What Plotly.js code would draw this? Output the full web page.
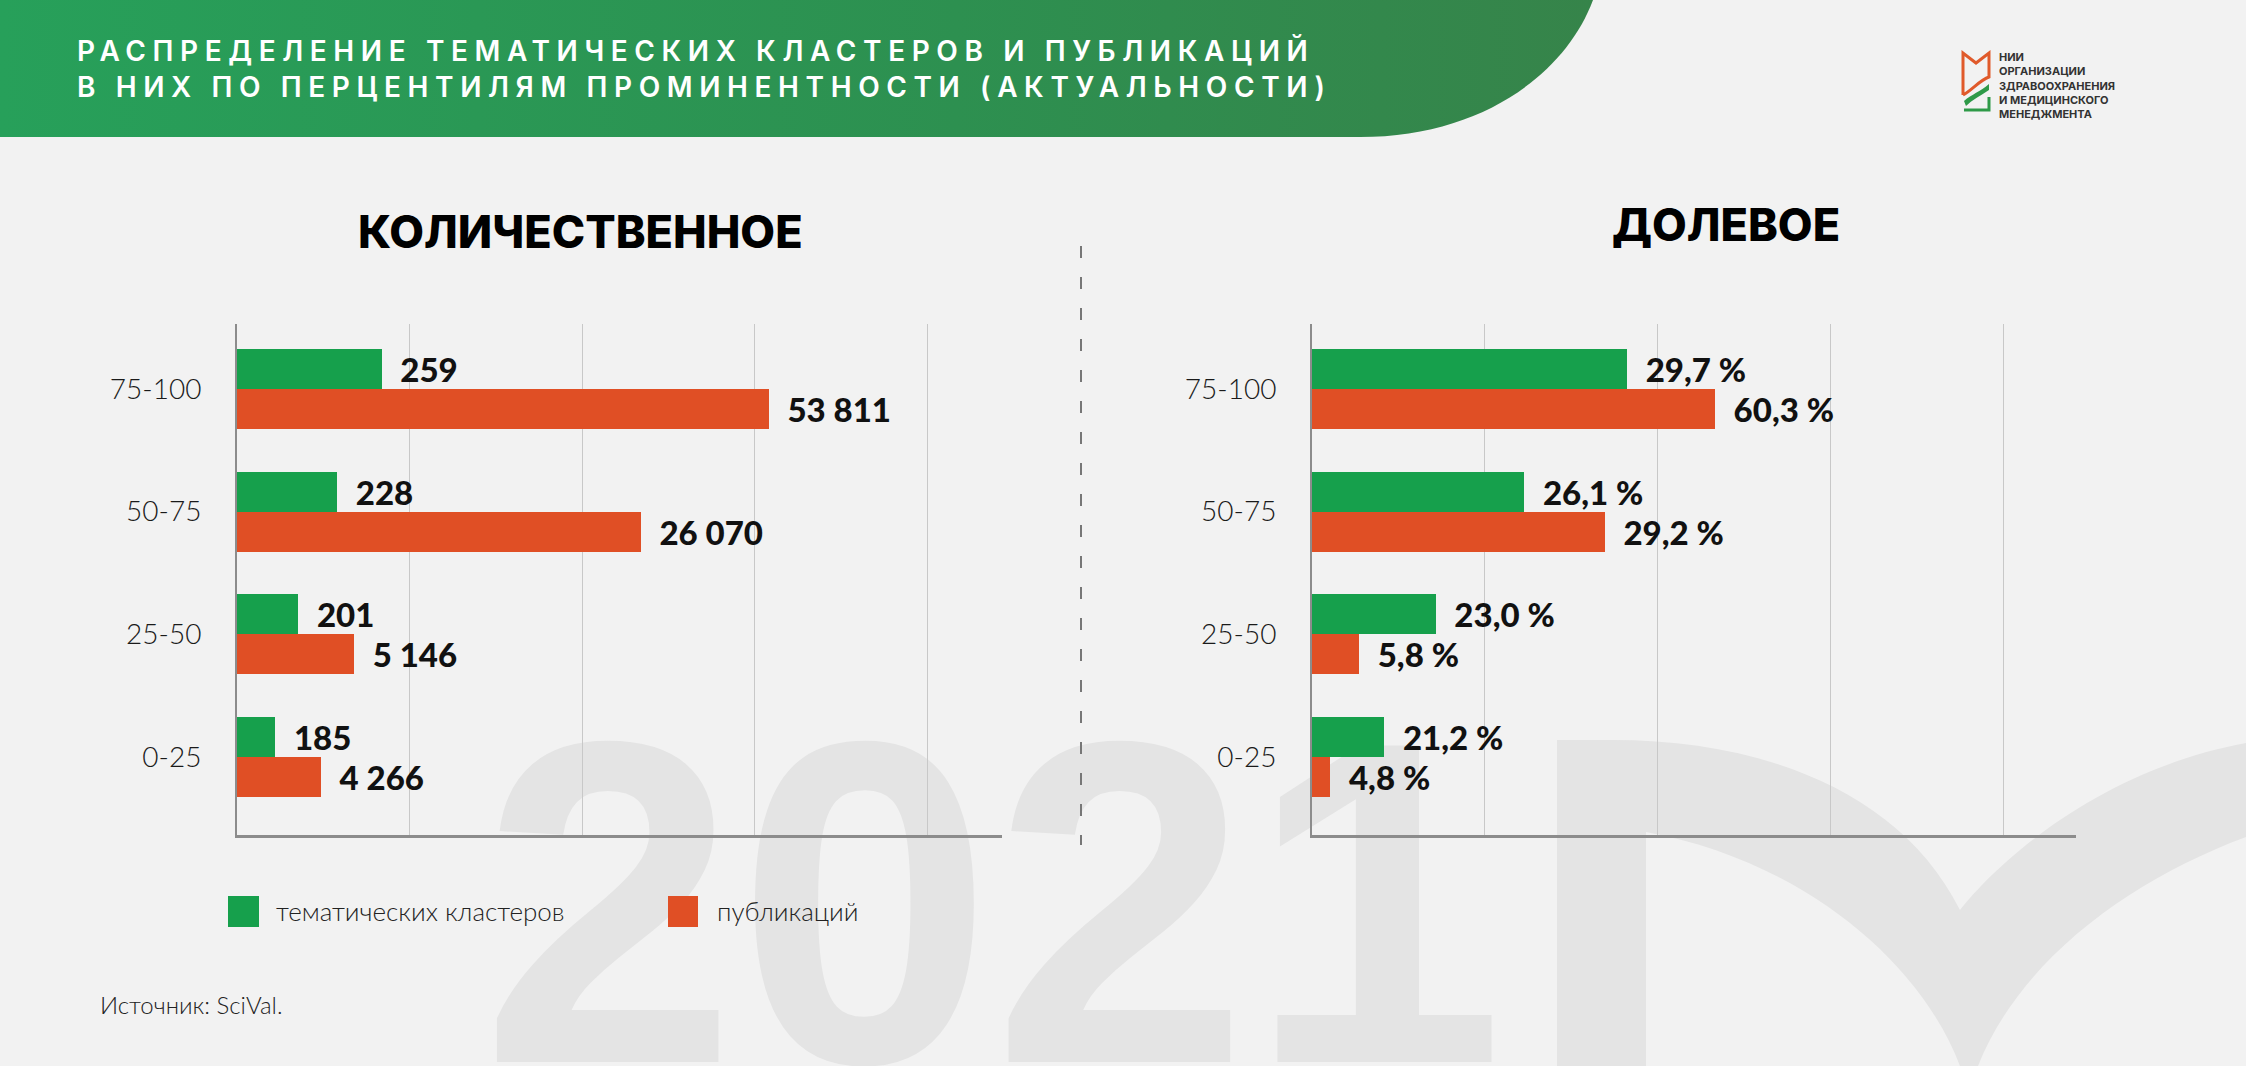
<!DOCTYPE html>
<html>
<head>
<meta charset="utf-8">
<script src="https://cdn.plot.ly/plotly-3.0.1.min.js"></script>
<style>
  html, body { margin: 0; padding: 0; background: #f2f2f2; }
  #chart { width: 2246px; height: 1066px; }
  .annotation[data-index="0"] text { letter-spacing: 6.6px; }
</style>
</head>
<body>
<div id="chart"></div>
<script>
// ---- data ----
const categories = ['0-25', '25-50', '50-75', '75-100'];
const clusters = [185, 201, 228, 259];
const publications = [4266, 5146, 26070, 53811];
const clusterShare = [21.2, 23.0, 26.1, 29.7];
const publicationShare = [4.8, 5.8, 29.2, 60.3];
const seriesNames = ['тематических кластеров', 'публикаций'];
const panelTitles = ['КОЛИЧЕСТВЕННОЕ', 'ДОЛЕВОЕ'];
const mainTitle = 'РАСПРЕДЕЛЕНИЕ ТЕМАТИЧЕСКИХ КЛАСТЕРОВ И ПУБЛИКАЦИЙ<br>В НИХ ПО ПЕРЦЕНТИЛЯМ ПРОМИНЕНТНОСТИ (АКТУАЛЬНОСТИ)';
const sourceText = 'Источник: SciVal.';
const logoText = 'НИИ<br>ОРГАНИЗАЦИИ<br>ЗДРАВООХРАНЕНИЯ<br>И МЕДИЦИНСКОГО<br>МЕНЕДЖМЕНТА';
const watermark = '2021';

// ---- layout helpers (pixel -> paper) ----
const W = 2246, H = 1066;
const X = p => p / W;
const Y = p => 1 - p / H;

const GREEN = '#16a04c';
const ORANGE = '#e04f25';
const LABEL_FONT = { family: 'Lato, sans-serif', size: 33, weight: 900, color: '#111' };
const GAP = '\u00a0\u00a0';

function barTrace(values, name, color, xa, ya, offset, tmpl) {
  return {
    type: 'bar', orientation: 'h', y: categories, x: values, name: name,
    xaxis: xa, yaxis: ya, width: 0.326, offset: offset,
    marker: { color: color, line: { width: 0 } },
    texttemplate: tmpl, textposition: 'outside', cliponaxis: false,
    constraintext: 'none', textfont: LABEL_FONT,
    showlegend: false, hoverinfo: 'skip'
  };
}

const data = [
  barTrace(clusters, seriesNames[0], GREEN, 'x', 'y', 0, GAP + '%{x:,}'),
  barTrace(publications, seriesNames[1], ORANGE, 'x2', 'y', -0.326, GAP + '%{x:,}'),
  barTrace(clusterShare, seriesNames[0], GREEN, 'x3', 'y2', 0, GAP + '%{x:.1f} %'),
  barTrace(publicationShare, seriesNames[1], ORANGE, 'x4', 'y2', -0.326, GAP + '%{x:.1f} %')
];

function gridAxis(domain, range, dtick, anchor) {
  return {
    domain: domain, range: range, anchor: anchor, tick0: range[0], dtick: dtick,
    showgrid: true, gridcolor: '#c8c8c8', gridwidth: 1,
    showticklabels: false, ticks: '', zeroline: false,
    showline: true, linecolor: '#8c8c8c', linewidth: 3, fixedrange: true
  };
}
function logAxis(over, range, anchor) {
  return { overlaying: over, type: 'log', range: range, anchor: anchor, visible: false, fixedrange: true };
}
function catAxis(anchor) {
  return {
    domain: [Y(835), Y(324)], anchor: anchor, type: 'category',
    categoryorder: 'array', categoryarray: categories, range: [-0.636, 3.53],
    showline: true, linecolor: '#8c8c8c', linewidth: 2, ticks: '',
    showgrid: false, zeroline: false, ticklabelstandoff: 28,
    tickfont: { family: 'Lato, sans-serif', size: 28, weight: 300, color: '#1a1a1a' },
    fixedrange: true
  };
}

const bannerSvg = '<svg xmlns="http://www.w3.org/2000/svg" width="1593" height="137" viewBox="0 0 1593 137" preserveAspectRatio="none">' +
  '<defs><linearGradient id="g" x1="0" y1="0" x2="1" y2="0">' +
  '<stop offset="0" stop-color="#27a05a"/><stop offset="0.6" stop-color="#2d9050"/><stop offset="1" stop-color="#36844a"/></linearGradient></defs>' +
  '<path d="M0,0 L1593,0 C1565,75 1480,137 1360,137 L0,137 Z" fill="url(#g)"/></svg>';

function P(pts) { // build a path string from pixel commands
  return pts.map(s => s[0] + s.slice(1).map((v, i) => (i % 2 === 0 ? X(v) : Y(v)).toFixed(5)).join(',')).join(' ');
}

const checkPath = P([
  ['M', 1557, 1066], ['L', 1557, 740], ['L', 1613, 740],
  ['C', 1760, 740, 1900, 790, 1960, 910],
  ['C', 2000, 860, 2100, 770, 2246, 743],
  ['L', 2246, 837],
  ['C', 2130, 880, 2020, 960, 1978, 1066],
  ['L', 1960, 1066],
  ['C', 1920, 960, 1800, 860, 1646, 832],
  ['L', 1646, 1066]
]) + ' Z';

const logoOrange = P([
  ['M', 1963, 95], ['L', 1963, 53], ['L', 1976, 63], ['L', 1989, 53], ['L', 1989, 77],
  ['C', 1980, 80, 1972, 90, 1963, 95]
]);
const logoGreenBand = P([
  ['M', 1964, 101], ['C', 1972, 94, 1980, 92, 1989, 84], ['L', 1989, 90],
  ['C', 1980, 96, 1972, 100, 1966, 106]
]) + ' Z';
const logoGreenL = P([['M', 1964, 110], ['L', 1989, 110], ['L', 1989, 97]]);

const layout = {
  width: W, height: H,
  margin: { l: 0, r: 0, t: 0, b: 0, pad: 0 },
  paper_bgcolor: '#f2f2f2', plot_bgcolor: 'rgba(0,0,0,0)',
  separators: ', ',
  bargap: 0,
  xaxis: gridAxis([X(237), X(1002)], [158.4, 690.4], 120, 'y'),
  xaxis2: logAxis('x', [3.424, 5.304], 'y'),
  xaxis3: gridAxis([X(1312), X(2076)], [18.67, 45.42], 6.05, 'y2'),
  xaxis4: logAxis('x3', [0.629, 2.812], 'y2'),
  yaxis: catAxis('x'),
  yaxis2: catAxis('x3'),
  images: [{
    source: 'data:image/svg+xml;charset=utf-8,' + encodeURIComponent(bannerSvg),
    xref: 'paper', yref: 'paper', x: 0, y: 1, sizex: 1593 / W, sizey: 137 / H,
    xanchor: 'left', yanchor: 'top', sizing: 'stretch', layer: 'below'
  }],
  shapes: [
    { type: 'rect', xref: 'paper', yref: 'paper', layer: 'below',
      x0: X(478), x1: X(1520), y0: Y(1066), y1: Y(602),
      line: { width: 0 }, fillcolor: 'rgba(0,0,0,0)',
      label: { text: watermark, textposition: 'top left', padding: 0,
               font: { family: 'Liberation Sans, Arial, sans-serif', size: 460, weight: 700, color: '#e4e4e4' } } },
    { type: 'path', xref: 'paper', yref: 'paper', layer: 'below', path: checkPath,
      fillcolor: '#e4e4e4', line: { width: 0 } },
    { type: 'line', xref: 'paper', yref: 'paper', x0: X(1081), x1: X(1081), y0: Y(246), y1: Y(845),
      line: { color: '#777', width: 2, dash: '12px,19px' } },
    { type: 'rect', xref: 'paper', yref: 'paper', x0: X(228), x1: X(259), y0: Y(927), y1: Y(896),
      fillcolor: GREEN, line: { width: 0 } },
    { type: 'rect', xref: 'paper', yref: 'paper', x0: X(668), x1: X(698), y0: Y(927), y1: Y(896),
      fillcolor: ORANGE, line: { width: 0 } },
    { type: 'path', xref: 'paper', yref: 'paper', path: logoOrange, line: { color: '#e05a2b', width: 3 } },
    { type: 'path', xref: 'paper', yref: 'paper', path: logoGreenBand, fillcolor: '#2e9a48', line: { width: 0 } },
    { type: 'path', xref: 'paper', yref: 'paper', path: logoGreenL, line: { color: '#2e9a48', width: 3 } }
  ],
  annotations: [
    { text: mainTitle, xref: 'paper', yref: 'paper', x: X(75), y: Y(31), xanchor: 'left', yanchor: 'top',
      align: 'left', showarrow: false,
      font: { family: 'Inter, sans-serif', size: 28, weight: 600, color: '#ffffff' } },
    { text: panelTitles[0], xref: 'paper', yref: 'paper', x: X(580), y: Y(231), xanchor: 'center', yanchor: 'middle',
      showarrow: false, font: { family: 'Inter, sans-serif', size: 45, weight: 800, color: '#000' } },
    { text: panelTitles[1], xref: 'paper', yref: 'paper', x: X(1726), y: Y(224), xanchor: 'center', yanchor: 'middle',
      showarrow: false, font: { family: 'Inter, sans-serif', size: 45, weight: 800, color: '#000' } },
    { text: seriesNames[0], xref: 'paper', yref: 'paper', x: X(274), y: Y(911), xanchor: 'left', yanchor: 'middle',
      showarrow: false, font: { family: 'Lato, sans-serif', size: 26, weight: 300, color: '#222' } },
    { text: seriesNames[1], xref: 'paper', yref: 'paper', x: X(715), y: Y(911), xanchor: 'left', yanchor: 'middle',
      showarrow: false, font: { family: 'Lato, sans-serif', size: 26, weight: 300, color: '#222' } },
    { text: sourceText, xref: 'paper', yref: 'paper', x: X(98), y: Y(1004), xanchor: 'left', yanchor: 'middle',
      showarrow: false, font: { family: 'Lato, sans-serif', size: 24, weight: 300, color: '#222' } },
    { text: logoText, xref: 'paper', yref: 'paper', x: X(1997), y: Y(48), xanchor: 'left', yanchor: 'top',
      align: 'left', showarrow: false, font: { family: 'Inter, sans-serif', size: 11, weight: 700, color: '#333' } }
  ]
};

Plotly.newPlot('chart', data, layout, { displayModeBar: false, staticPlot: true });
</script>
</body>
</html>
